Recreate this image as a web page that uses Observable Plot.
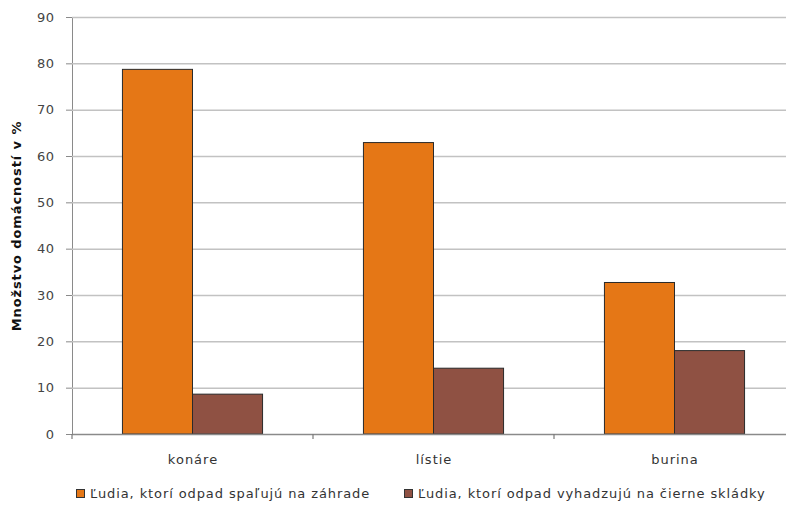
<!DOCTYPE html>
<html><head><meta charset="utf-8">
<script src="https://cdn.jsdelivr.net/npm/d3@7"></script>
<script src="https://cdn.jsdelivr.net/npm/@observablehq/plot@0.6"></script>
<style>
html,body{margin:0;padding:0;background:#fff;width:786px;height:506px;overflow:hidden;}
body{position:relative;font-family:"DejaVu Sans",sans-serif;}
#chart{position:absolute;left:0;top:0;}
.leg{position:absolute;top:486px;font-size:13px;color:#333;letter-spacing:0.9px;white-space:nowrap;line-height:15px;}
.leg i{display:inline-block;width:7px;height:7px;border:1px solid #333;margin-right:5px;vertical-align:0px;}
</style></head><body><div id="chart"></div>
<div class="leg" id="leg0" style="left:76px"></div>
<div class="leg" id="leg1" style="left:404px"></div>
<script>
const categories = ["konáre", "lístie", "burina"];
const seriesNames = ["Ľudia, ktorí odpad spaľujú na záhrade", "Ľudia, ktorí odpad vyhadzujú na čierne skládky"];
const burnValues = [78.7, 62.9, 32.7];
const dumpValues = [8.6, 14.2, 18.0];
const yTicks = [0, 10, 20, 30, 40, 50, 60, 70, 80, 90];
const yLabel = "Množstvo domácností v %";
const colors = ["#E57716", "#8F5143"];

const data = categories.flatMap((c, i) => [
  {cat: c, series: seriesNames[0], value: burnValues[i]},
  {cat: c, series: seriesNames[1], value: dumpValues[i]}
]);

const plot = Plot.plot({
  width: 786, height: 476,
  marginLeft: 72, marginRight: -9, marginTop: 17, marginBottom: 42,
  style: {fontFamily: "DejaVu Sans", fontSize: "13px", background: "white", color: "#444", overflow: "visible"},
  fx: {domain: categories, padding: 0, label: null, axis: "bottom", tickSize: 0, tickPadding: 20},
  x: {domain: seriesNames, axis: null, paddingInner: 0, paddingOuter: 0.72, round: false},
  y: {domain: [0, 90], ticks: yTicks, tickSize: 6, tickPadding: 12, label: yLabel, labelAnchor: "center", labelOffset: 61, labelArrow: "none", line: true},
  color: {domain: seriesNames, range: colors},
  marks: [
    Plot.ruleY(yTicks.filter(d => d > 0), {stroke: "#c2c2c2", strokeWidth: 1.5}),
    Plot.barY(data, {fx: "cat", x: "series", y: "value", fill: "series", stroke: "#2a2a2a", strokeWidth: 1}),
    Plot.ruleY([0], {stroke: "#8a8a8a", strokeWidth: 1.5})
  ]
});
document.getElementById("chart").appendChild(plot);

const svg = d3.select(plot);
svg.selectAll("[stroke=currentColor]").attr("stroke", "#8a8a8a");

// category boundary ticks
const fx = plot.scale("fx");
const y = plot.scale("y");
const y0 = y.apply(0);
const bounds = categories.map(c => fx.apply(c)).concat([fx.apply(categories[categories.length - 1]) + fx.bandwidth]);
svg.append("g").selectAll("line").data(bounds).join("line")
  .attr("x1", d => d).attr("x2", d => d)
  .attr("y1", y0).attr("y2", y0 + 5)
  .attr("stroke", "#7a7a7a").attr("stroke-width", 1.2);

// style texts
svg.selectAll("text").each(function() {
  const t = d3.select(this);
  const s = this.textContent;
  if (s === yLabel) {
    t.attr("font-weight", "bold").attr("fill", "#111").style("letter-spacing", "0.9px");
  } else if (categories.includes(s)) {
    t.attr("fill", "#333").style("letter-spacing", "1px");
  } else if (yTicks.map(String).includes(s)) {
    t.style("font-size", "13px").style("letter-spacing", "0.5px").attr("fill", "#444");
  }
});

seriesNames.forEach((s, i) => {
  const el = document.getElementById("leg" + i);
  const sw = document.createElement("i");
  sw.style.background = colors[i];
  el.appendChild(sw);
  el.appendChild(document.createTextNode(s));
});
</script>
</body></html>
